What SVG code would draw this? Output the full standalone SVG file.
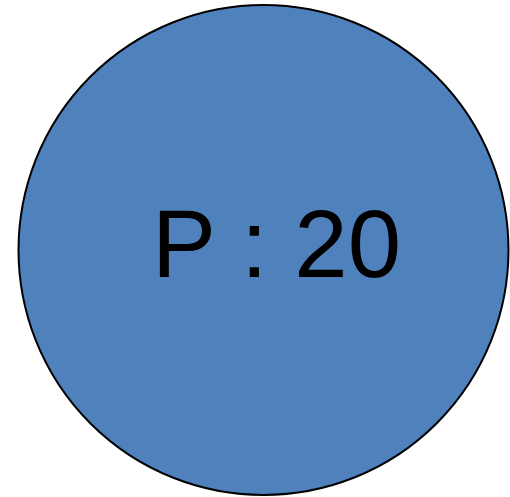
<svg xmlns="http://www.w3.org/2000/svg" width="510" height="497" viewBox="0 0 510 497">
<style>
.node{fill:#4F81BD;stroke:#000;stroke-width:2}
.lbl{font-family:"Liberation Sans",Arial,sans-serif;font-size:96px;fill:#000}
</style>
<rect width="510" height="497" fill="#fff"/>
<g id="connectors"></g>
<g id="nodeP">
<circle class="node" cx="263.5" cy="250" r="245"/>
<text class="lbl" x="152" y="277">P : 20</text>
</g>
</svg>
